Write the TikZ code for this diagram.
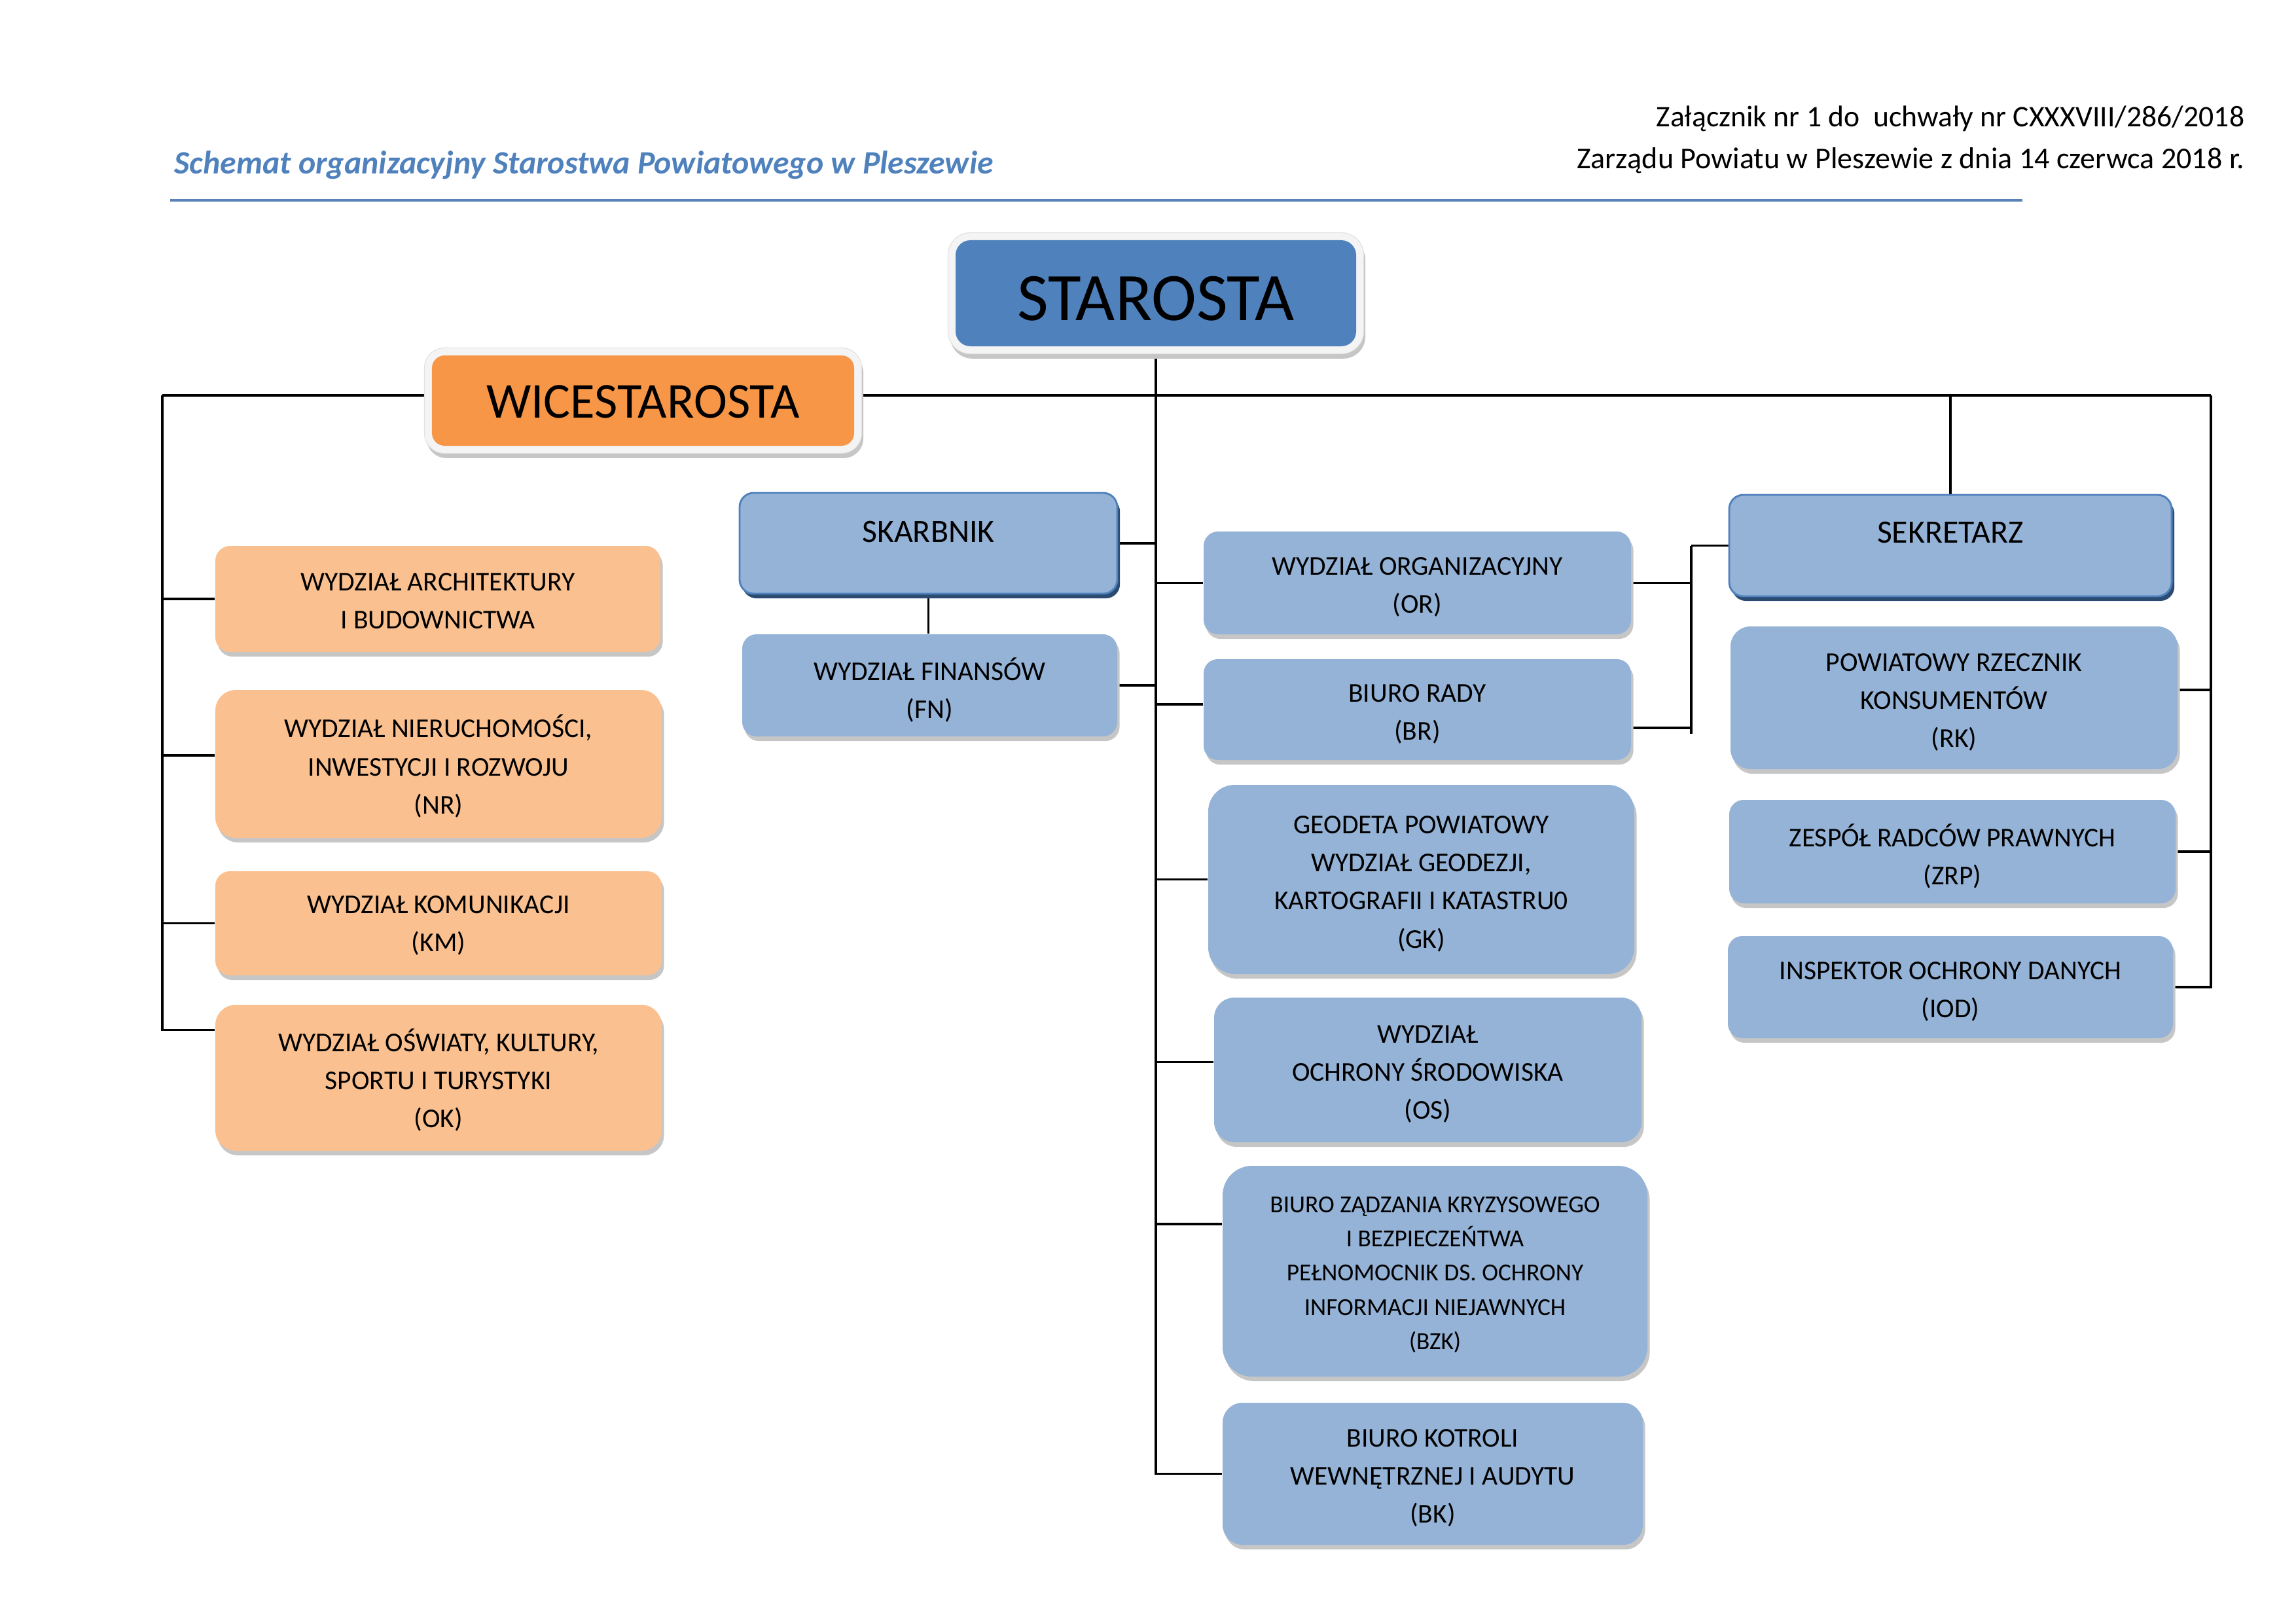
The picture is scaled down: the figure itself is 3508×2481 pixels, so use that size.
\documentclass[tikz,border=0pt]{standalone}
\usepackage{fontspec}
\setmainfont{Carlito}
\usetikzlibrary{shadows,calc}
\definecolor{obl}{HTML}{FAC090}
\definecolor{ora}{HTML}{F79646}
\definecolor{bll}{HTML}{95B3D7}
\definecolor{bld}{HTML}{4F81BD}
\definecolor{bln}{HTML}{2C4B72}
\definecolor{shd}{HTML}{C6C6C6}
\definecolor{frm}{HTML}{F4F4F4}
\definecolor{rul}{HTML}{5B82B4}
\pgfdeclarelayer{bg}
\pgfsetlayers{bg,main}
% #1 box style, #2 text style, #3 name, #4-#7 corners (px), #8 text
\newcommand\orgnode[8]{%
  \pgfmathsetmacro\orgW{(#6-#4)*0.08466}%
  \pgfmathsetmacro\orgH{(#7-#5)*0.08466}%
  \pgfmathsetmacro\orgR{0.14*\orgH}%
  \node[#1, minimum width=\orgW mm, minimum height=\orgH mm, rounded corners=\orgR mm] (#3) at ({(#4+#6)/2},{(#5+#7)/2}) {};
  \node[#2] (#3t) at (#3.center) {#8};}
\tikzset{
  lbox/.style={fill=obl, drop shadow={shadow xshift=0.3mm, shadow yshift=-0.6mm, opacity=1, fill=shd}, inner sep=0pt},
  bbox/.style={fill=bll, drop shadow={shadow xshift=0.3mm, shadow yshift=-0.6mm, opacity=1, fill=shd}, inner sep=0pt},
  hbox/.style={fill=bll, draw=bld, line width=0.7pt, drop shadow={shadow xshift=0.35mm, shadow yshift=-0.6mm, opacity=1, fill=bln}, inner sep=0pt},
  topbox/.style={inner sep=0pt,
    preaction={draw=shd, line width=1.9mm, transform canvas={xshift=0.25mm, yshift=-0.65mm}},
    preaction={draw=black!12, line width=2.05mm},
    preaction={draw=frm, line width=1.85mm}},
  txt/.style={align=center, inner sep=0pt, font=\fontsize{10}{14}\selectfont},
  ltxt/.style={txt, yshift=-0.3mm},
  btxt/.style={txt, yshift=-0.57mm},
  stxt/.style={txt, yshift=-0.45mm, font=\fontsize{9}{12.6}\selectfont},
  htxt/.style={txt, font=\fontsize{12}{14}\selectfont},
  conn/.style={draw=black, line width=0.75pt}
}
\begin{document}
\begin{tikzpicture}[x=0.08466mm, y=-0.08466mm]
\useasboundingbox (0,0) rectangle (3508,2481);
% header
\node[anchor=base west, inner sep=0pt, text=bld, font=\fontsize{12}{14}\selectfont\bfseries\itshape] (title) at (266,266) {Schemat organizacyjny Starostwa Powiatowego w Pleszewie};
\node[anchor=base east, inner sep=0pt, font=\fontsize{11}{13}\selectfont] (hdra) at (3430,194) {Załącznik nr 1 do~ uchwały nr CXXXVIII/286/2018};
\node[anchor=base east, inner sep=0pt, font=\fontsize{11.1}{13}\selectfont] (hdrb) at (3430,258) {Zarządu Powiatu w Pleszewie z dnia 14 czerwca 2018 r.};
\coordinate (rulea) at (260,306);
\coordinate (ruleb) at (3090,306);
\draw[rul, line width=0.8pt] (rulea) -- (ruleb);

% top boxes
\orgnode{topbox, fill=bld}{txt, yshift=-0.68mm, font=\fontsize{25}{28}\selectfont}{starosta}{1460}{367}{2072}{529}{STAROSTA}
\orgnode{topbox, fill=ora}{txt, yshift=-0.17mm, font=\fontsize{18.5}{22}\selectfont}{wice}{660}{543}{1305}{681}{WICESTAROSTA}

% left column
\orgnode{lbox}{ltxt}{ab}{329}{834}{1009}{996}{WYDZIAŁ ARCHITEKTURY\\I BUDOWNICTWA}
\orgnode{lbox}{ltxt}{nr}{329}{1054}{1011}{1280}{WYDZIAŁ NIERUCHOMOŚCI,\\INWESTYCJI I ROZWOJU\\(NR)}
\orgnode{lbox}{ltxt}{km}{329}{1331}{1011}{1490}{WYDZIAŁ KOMUNIKACJI\\(KM)}
\orgnode{lbox}{ltxt}{ok}{329}{1535}{1011}{1758}{WYDZIAŁ OŚWIATY, KULTURY,\\SPORTU I TURYSTYKI\\(OK)}

% skarbnik
\orgnode{hbox}{htxt, yshift=1.52mm}{skarbnik}{1130}{753}{1707}{907}{SKARBNIK}
\orgnode{bbox}{btxt}{fn}{1134}{969}{1707}{1125}{WYDZIAŁ FINANSÓW\\(FN)}

% central column
\orgnode{bbox}{btxt}{or}{1839}{812}{2492}{969}{WYDZIAŁ ORGANIZACYJNY\\(OR)}
\orgnode{bbox}{btxt}{br}{1839}{1007}{2492}{1161}{BIURO RADY\\(BR)}
\orgnode{bbox}{btxt}{gk}{1846}{1199}{2497}{1488}{GEODETA POWIATOWY\\WYDZIAŁ GEODEZJI,\\KARTOGRAFII I KATASTRU0\\(GK)}
\orgnode{bbox}{btxt}{os}{1855}{1524}{2508}{1745}{WYDZIAŁ\\OCHRONY ŚRODOWISKA\\(OS)}
\orgnode{bbox}{stxt}{bzk}{1868}{1781}{2517}{2103}{BIURO ZĄDZANIA KRYZYSOWEGO\\I BEZPIECZEŃTWA\\PEŁNOMOCNIK DS. OCHRONY\\INFORMACJI NIEJAWNYCH\\(BZK)}
\orgnode{bbox}{btxt}{bk}{1868}{2143}{2510}{2360}{BIURO KOTROLI\\WEWNĘTRZNEJ I AUDYTU\\(BK)}

% right column
\orgnode{hbox}{htxt, yshift=1.69mm}{sek}{2642}{756}{3318}{911}{SEKRETARZ}
\orgnode{bbox}{btxt}{rk}{2644}{957}{3327}{1175}{POWIATOWY RZECZNIK\\KONSUMENTÓW\\(RK)}
\orgnode{bbox}{btxt}{zrp}{2642}{1222}{3324}{1380}{ZESPÓŁ RADCÓW PRAWNYCH\\(ZRP)}
\orgnode{bbox}{btxt}{iod}{2640}{1430}{3320}{1586}{INSPEKTOR OCHRONY DANYCH\\(IOD)}

% connectors
\begin{pgfonlayer}{bg}
\coordinate (L) at (248,604);
\coordinate (R) at (3378,604);
\coordinate (J) at (2584,604);
\coordinate (nrc) at ($(nr.west)+(0,-13)$);
\coordinate (okc) at ($(ok.west)+(0,-73)$);
\coordinate (brl) at ($(br.west)+(0,-8)$);
\coordinate (brr) at ($(br.east)+(0,28)$);
\coordinate (brend) at ($(J |- brr)+(0,9)$);
\coordinate (osc) at ($(os.west)+(0,-12)$);
\coordinate (bzkc) at ($(bzk.west)+(0,-72)$);
\coordinate (rkc) at ($(rk.east)+(0,-12)$);
\draw[conn] (L) -- (R);
% left branch
\draw[conn] (L) |- (okc);
\draw[conn] (L |- ab.west) -- (ab.west);
\draw[conn] (L |- nrc) -- (nrc);
\draw[conn] (L |- km.west) -- (km.west);
% spine
\draw[conn] (starosta.south) -- (starosta.south |- bk.west) -- (bk.west);
\draw[conn] (skarbnik.east) -- (starosta.south |- skarbnik.east);
\draw[conn] (fn.east) -- (starosta.south |- fn.east);
\draw[conn] (skarbnik.south) -- (skarbnik.south |- fn.north);
\draw[conn] (starosta.south |- or.west) -- (or.west);
\draw[conn] (starosta.south |- brl) -- (brl);
\draw[conn] (starosta.south |- gk.west) -- (gk.west);
\draw[conn] (starosta.south |- osc) -- (osc);
\draw[conn] (starosta.south |- bzkc) -- (bzkc);
% OR/BR to sekretarz
\draw[conn] (or.east) -- (or.east -| J);
\draw[conn] (brr) -- (brr -| J);
\draw[conn] (J |- sek.west) -- (brend);
\draw[conn] (J |- sek.west) -- (sek.west);
% right branch
\draw[conn] (sek.north) -- (sek.north |- R);
\draw[conn] (R) |- (iod.east);
\draw[conn] (rkc) -- (rkc -| R);
\draw[conn] (zrp.east) -- (zrp.east -| R);
\end{pgfonlayer}
\end{tikzpicture}
\end{document}
